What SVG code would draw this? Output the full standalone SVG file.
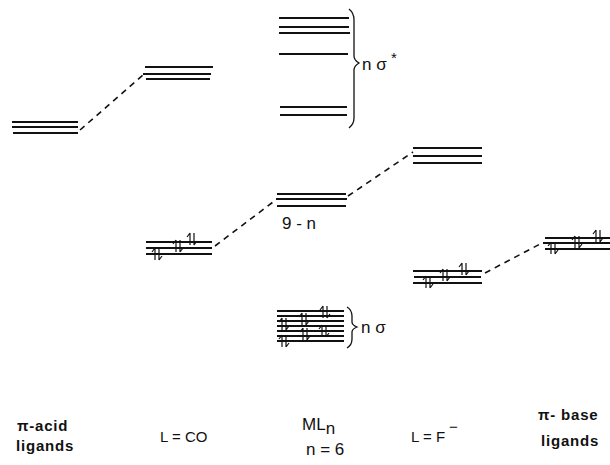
<svg xmlns="http://www.w3.org/2000/svg" width="610" height="465" viewBox="0 0 610 465">
  <style>
    .lvl { stroke: #111; stroke-width: 2; fill: none; }
    .dash { stroke: #111; stroke-width: 1.6; fill: none; stroke-dasharray: 6 5; }
    .brace { stroke: #111; stroke-width: 1.3; fill: none; }
    .e { stroke: #111; stroke-width: 1.2; fill: none; }
    .lbl { font-family: "Liberation Sans", Arial, sans-serif; font-size: 15px; fill: #111; }
    .big { font-size: 17px; }
    .b { font-weight: bold; letter-spacing: 0.8px; }
  </style>
  <defs>
    <!-- spin-paired electrons: up arrow + down arrow -->
    <g id="pair">
      <path class="e" d="M -2 6 V -6 M -2 -6 L -5 -2"/>
      <path class="e" d="M 2 -6 V 6 M 2 6 L 5 2"/>
    </g>
  </defs>

  <!-- connectors -->
  <g id="connectors">
    <path class="dash" d="M 80 130 L 143 75"/>
    <path class="dash" d="M 215 246 L 277 199"/>
    <path class="dash" d="M 348 196 L 413 152"/>
    <path class="dash" d="M 485 273 L 542 243"/>
  </g>

  <!-- pi-acid ligand orbitals -->
  <g id="pi-acid-lower">
    <path class="lvl" d="M 12 122 H 78 M 12 127 H 78 M 13 133 H 78"/>
  </g>
  <g id="pi-acid-upper">
    <path class="lvl" d="M 145 67 H 213 M 143 74 H 211 M 146 79 H 210"/>
  </g>

  <!-- L = CO -->
  <g id="co-levels">
    <path class="lvl" d="M 146 242 H 212 M 146 248 H 212 M 146 254 H 212"/>
    <use href="#pair" x="157" y="254"/>
    <use href="#pair" x="178" y="246"/>
    <use href="#pair" x="192" y="239"/>
  </g>

  <!-- ML_n sigma* -->
  <g id="sigma-star">
    <path class="lvl" d="M 279 18 H 349 M 279 27 H 349 M 279 33 H 350 M 279 54 H 348 M 280 107 H 347 M 280 115 H 347"/>
    <path class="brace" d="M 349 9 Q 354 13 354 20 V 56 Q 354 60 359 63 Q 354 66 354 70 V 118 Q 354 124 349 128"/>
    <text class="lbl big" x="362" y="70">n σ</text>
    <text class="lbl" x="391" y="63" font-size="13">*</text>
  </g>

  <!-- ML_n nonbonding (9 - n) -->
  <g id="ml-mid">
    <path class="lvl" d="M 277 194 H 346 M 276 199 H 347 M 277 206 H 346"/>
    <text class="lbl big" x="282" y="229">9 - n</text>
  </g>

  <!-- ML_n sigma bonding -->
  <g id="sigma-bond">
    <path class="lvl" d="M 277 311 H 344 M 277 316 H 344 M 277 321 H 344 M 277 326 H 344 M 277 331 H 344 M 277 336 H 344 M 277 341 H 344"/>
    <use href="#pair" x="325" y="312"/>
    <use href="#pair" x="304" y="319"/>
    <use href="#pair" x="284" y="324"/>
    <use href="#pair" x="324" y="331"/>
    <use href="#pair" x="305" y="334"/>
    <use href="#pair" x="284" y="341"/>
    <path class="brace" d="M 347 307 Q 352 310 352 316 V 322 Q 352 325 357 327 Q 352 329 352 332 V 339 Q 352 345 347 348"/>
    <text class="lbl big" x="361" y="333">n σ</text>
  </g>

  <!-- L = F- -->
  <g id="f-upper">
    <path class="lvl" d="M 413 148 H 482 M 413 156 H 482 M 413 163 H 482"/>
  </g>
  <g id="f-lower">
    <path class="lvl" d="M 413 271 H 482 M 414 277 H 481 M 413 283 H 482"/>
    <use href="#pair" x="428" y="282"/>
    <use href="#pair" x="445" y="275"/>
    <use href="#pair" x="464" y="269"/>
  </g>

  <!-- pi-base ligand orbitals -->
  <g id="pi-base">
    <path class="lvl" d="M 545 238 H 610 M 543 243 H 610 M 545 249 H 610"/>
    <use href="#pair" x="553" y="248"/>
    <use href="#pair" x="577" y="242"/>
    <use href="#pair" x="598" y="236"/>
  </g>

  <!-- column labels -->
  <g id="labels">
    <text class="lbl b" x="17" y="431">π-acid</text>
    <text class="lbl b" x="16" y="451">ligands</text>
    <text class="lbl" x="160" y="442">L = CO</text>
    <text class="lbl big" x="302" y="430">ML<tspan dy="4">n</tspan></text>
    <text class="lbl big" x="306" y="455">n = 6</text>
    <text class="lbl" x="411" y="442">L = F</text>
    <text class="lbl" x="449" y="432" font-size="13">−</text>
    <text class="lbl b" x="538" y="420">π- base</text>
    <text class="lbl b" x="541" y="446">ligands</text>
  </g>
</svg>
